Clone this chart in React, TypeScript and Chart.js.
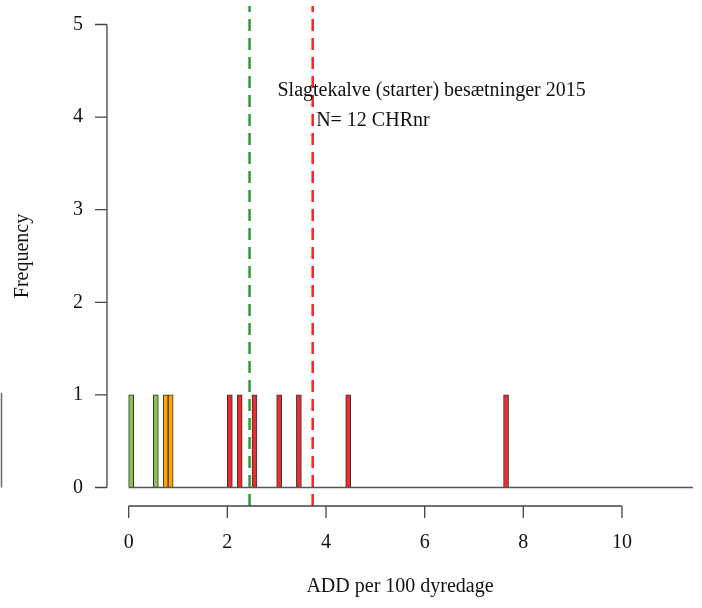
import React, { useEffect, useRef } from "react";
import { Chart, registerables } from "chart.js";

Chart.register(...registerables);

// Histogram bins (bin midpoints, width 0.1) and counts
const binMids = [0.05, 0.55, 0.75, 0.85, 2.05, 2.25, 2.55, 3.05, 3.45, 4.45, 7.65];
const binCounts = [1, 1, 1, 1, 1, 1, 1, 1, 1, 1, 1];
const binGroup = ["green", "green", "orange", "orange", "red", "red", "red", "red", "red", "red", "red"];
const groupColors: Record<string, string> = { green: "#8DC152", orange: "#FFA500", red: "#EE2C2C" };

const xTicks = [0, 2, 4, 6, 8, 10];
const yTicks = [0, 1, 2, 3, 4, 5];

const medianValue = 2.45; // green dashed
const meanValue = 3.73; // red dashed

const titleText = "Slagtekalve (starter) besætninger 2015";
const nText = "N= 12 CHRnr";
const xTitle = "ADD per 100 dyredage";
const yTitle = "Frequency";

const FONT = "20px 'Liberation Serif', 'Times New Roman', serif";

const axesPlugin = {
  id: "rAxes",
  afterDraw(chart: any) {
    const { ctx, chartArea, scales } = chart;
    const xs = scales.x;
    const ys = scales.y;
    ctx.save();
    ctx.strokeStyle = "#444";
    ctx.lineWidth = 1.3;
    ctx.fillStyle = "#111";
    ctx.font = FONT;

    // x axis
    const xb = chartArea.bottom;
    ctx.beginPath();
    ctx.moveTo(xs.getPixelForValue(xTicks[0]), xb);
    ctx.lineTo(xs.getPixelForValue(xTicks[xTicks.length - 1]), xb);
    xTicks.forEach((t) => {
      const px = xs.getPixelForValue(t);
      ctx.moveTo(px, xb);
      ctx.lineTo(px, xb + 12);
    });
    ctx.stroke();
    ctx.textAlign = "center";
    ctx.textBaseline = "middle";
    xTicks.forEach((t) => {
      ctx.fillText(String(t), xs.getPixelForValue(t), 543);
    });

    // y axis
    const yl = chartArea.left;
    ctx.beginPath();
    ctx.moveTo(yl, ys.getPixelForValue(yTicks[0]));
    ctx.lineTo(yl, ys.getPixelForValue(yTicks[yTicks.length - 1]));
    yTicks.forEach((t) => {
      const py = ys.getPixelForValue(t);
      ctx.moveTo(yl, py);
      ctx.lineTo(yl - 12, py);
    });
    ctx.stroke();
    ctx.textAlign = "right";
    yTicks.forEach((t) => {
      ctx.fillText(String(t), 83, ys.getPixelForValue(t));
    });

    // baseline at 0
    ctx.beginPath();
    ctx.strokeStyle = "#555";
    ctx.moveTo(xs.getPixelForValue(0), ys.getPixelForValue(0));
    ctx.lineTo(chartArea.right, ys.getPixelForValue(0));
    ctx.stroke();

    // left edge artifact
    ctx.beginPath();
    ctx.strokeStyle = "#666";
    ctx.lineWidth = 1.5;
    ctx.moveTo(1.5, ys.getPixelForValue(1) - 2);
    ctx.lineTo(1.5, ys.getPixelForValue(0));
    ctx.stroke();

    // titles
    ctx.textAlign = "center";
    ctx.textBaseline = "middle";
    ctx.fillText(xTitle, (chartArea.left + chartArea.right) / 2, 587);
    ctx.save();
    ctx.translate(23, (chartArea.top + chartArea.bottom) / 2);
    ctx.rotate(-Math.PI / 2);
    ctx.fillText(yTitle, 0, 0);
    ctx.restore();

    // annotations
    ctx.textAlign = "center";
    ctx.fillText(titleText, xs.getPixelForValue(6.14), ys.getPixelForValue(4.29));
    ctx.textAlign = "left";
    ctx.fillText(nText, xs.getPixelForValue(3.8), ys.getPixelForValue(3.96));
    ctx.restore();
  },
};

export default function App() {
  const ref = useRef<HTMLCanvasElement | null>(null);
  useEffect(() => {
    if (!ref.current) return;
    const chart = new Chart(ref.current, {
      type: "bar",
      data: {
        datasets: [
          {
            type: "bar",
            data: binMids.map((m, i) => ({ x: m, y: binCounts[i] })),
            backgroundColor: binGroup.map((g) => groupColors[g]),
            borderColor: "#333",
            borderWidth: 1,
            barThickness: 5,
            order: 2,
          } as any,
          {
            type: "line",
            data: [
              { x: medianValue, y: -0.2 },
              { x: medianValue, y: 5.2 },
            ],
            borderColor: "#2E9B35",
            borderWidth: 2.5,
            borderDash: [12, 7],
            pointRadius: 0,
            order: 1,
          } as any,
          {
            type: "line",
            data: [
              { x: meanValue, y: -0.2 },
              { x: meanValue, y: 5.2 },
            ],
            borderColor: "#FF2020",
            borderWidth: 2.5,
            borderDash: [12, 7],
            pointRadius: 0,
            order: 1,
          } as any,
        ],
      },
      options: {
        responsive: false,
        animation: false,
        devicePixelRatio: 1,
        layout: { padding: { top: 6, right: 9, left: 0, bottom: 0 } },
        plugins: { legend: { display: false }, tooltip: { enabled: false } },
        scales: {
          x: {
            type: "linear",
            min: -0.44,
            max: 11.44,
            offset: false,
            grid: { display: false, offset: false },
            border: { display: false },
            ticks: { display: false },
            afterBuildTicks: (s: any) => {
              s.ticks = xTicks.map((v) => ({ value: v }));
            },
            afterFit: (s: any) => {
              s.height = 102;
            },
          },
          y: {
            type: "linear",
            min: -0.2,
            max: 5.2,
            grid: { display: false },
            border: { display: false },
            ticks: { display: false },
            afterBuildTicks: (s: any) => {
              s.ticks = yTicks.map((v) => ({ value: v }));
            },
            afterFit: (s: any) => {
              s.width = 107;
            },
          },
        },
      } as any,
      plugins: [axesPlugin],
    });
    return () => chart.destroy();
  }, []);
  return (
    <div style={{ position: "absolute", left: 0, top: 0, width: 702, height: 608, background: "#fff" }}>
      <canvas ref={ref} width={702} height={608} style={{ display: "block" }} />
    </div>
  );
}
